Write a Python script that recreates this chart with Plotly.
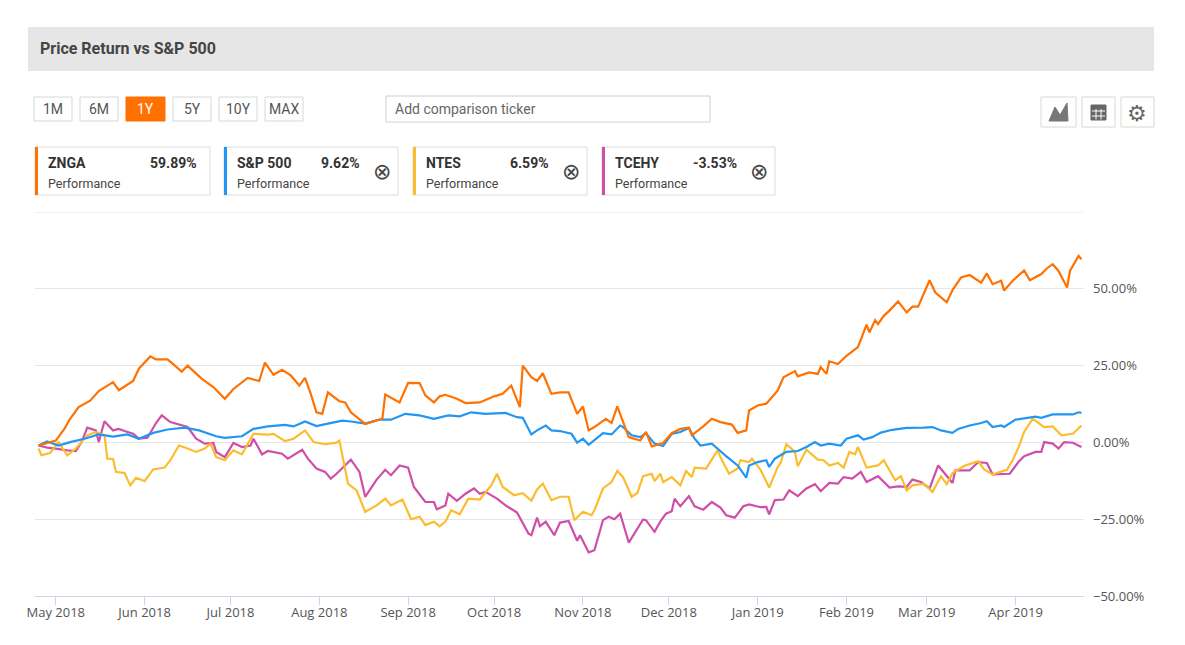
import pandas as pd
import plotly.graph_objects as go

BASE = "2018-04-24"
znga_day = [1,7,10,12,15,19,22,27,29,34,36,40,42,46,48,51,53,58,62,66,69,74,78,80,83,86,89,92,94,96,98,100,102,106,108,110,115,121,122,127,130,134,136,139,141,143,147,150,155,160,163,166,169,170,173,175,177,180,183,
            186,189,191,193,195,199,201,203,207,211,213,215,219,222,225,228,229,233,236,239,243,245,248,249,252,255,259,261,265,266,270,273,274,276,277,280,283,287,290,291,293,294,296,298,301,304,306,308,310,312,314,318,320,323,326,330,332,334,337,338,341,345,347,351,353,355,357,360,361,364,365]
znga_val = [-1,0.6,4.4,7.7,11.5,13.6,16.7,19.6,17,20,24,28,27,27,25.5,23,25,20.7,18,14.2,17.4,21,20,26,22,23.6,21.8,18.5,21,15.8,9.8,9.3,16.3,13.4,13,9.8,6,7.7,15.6,13,19.4,19.3,15.3,13,15,15.5,14.2,12.8,13,15,15.8,18.5,11.5,25,21.2,20,22.5,15.8,16.3,
            16.3,9.3,11.7,3.9,5,7.7,6.3,11.7,1.7,0.6,3.4,-1.3,-0.2,3,4.4,4.8,2.3,5.2,7.7,6.6,5.8,3.1,3.9,10.4,12,12.6,16.9,21.2,23.2,21.5,22.8,22.3,24.5,22.3,26.4,25.5,28.2,31,38.3,35.8,39.8,38.5,41.2,42.9,45.9,42.3,44.2,44.2,48.8,52.8,48.8,45.6,49.6,53.7,54.5,52,55,51.5,52.6,49.4,52.6,56,52.8,54.8,56.7,58,55.8,50.4,55.8,60.7,59.6]
spx_day = [1,4,8,12,17,22,27,32,36,41,46,52,57,63,66,72,76,81,87,90,94,98,102,107,110,115,120,124,129,134,139,144,148,152,157,164,168,170,173,175,178,180,183,
           187,189,191,193,197,198,201,204,205,208,211,213,216,219,222,225,228,230,232,236,241,245,248,249,252,255,256,258,262,266,269,272,274,277,281,283,287,289,292,295,299,304,310,313,316,320,322,326,330,332,334,337,338,342,349,351,355,362,364,365]
spx_val = [-1,0.3,-1,0.1,1.2,2.6,1.9,2.6,1.2,3.1,4.2,4.8,3.9,2,1.5,2,4.4,5.2,5.7,5.2,6.8,5.3,6.1,7.1,6.8,6.1,7.4,7.4,9.3,8.8,7.7,8.8,8.5,9.8,9.3,9.6,8.2,8,2.6,3.9,5.5,3.9,3.7,
           2.8,-0.1,1.2,-0.8,2.3,3,2.6,5.5,5,2.3,1.7,3,-0.4,-1.2,2.8,3.4,4.7,1.2,-1,-0.4,-4.5,-7.5,-11.5,-7.5,-6.4,-5.8,-8,-5.3,-3.1,-2.8,-1.5,0.1,-1,-0.4,-1,1.2,2.3,0.9,1.7,3.2,4.1,4.7,4.8,5,3.9,3.1,4.4,5.5,6.3,6.9,5,5.5,5,7.4,8.4,8,9.1,9.1,9.8,9.6]
ntes_day = [1,2,5,8,11,14,18,21,24,25,27,28,31,33,35,38,41,45,47,50,53,56,59,61,63,66,69,72,76,81,83,87,90,94,97,101,105,106,109,112,115,119,122,124,128,131,134,136,139,141,143,145,148,151,155,159,161,163,167,170,173,175,177,180,183,
            186,188,191,194,195,198,201,203,205,208,210,212,215,216,218,219,222,225,227,229,230,234,238,239,242,245,246,249,250,253,256,259,260,262,265,266,269,273,275,277,280,282,284,286,287,290,294,296,297,300,302,304,306,310,313,316,318,320,324,329,331,334,339,341,343,345,348,352,355,358,362,365]
ntes_val = [-2,-4.2,-3.5,0.1,-4.2,-2,2.3,3.4,2.3,-5.3,-5.4,-9.6,-10,-14,-11.5,-12.6,-8.8,-8.2,-5.8,-1,-2,-3.1,-2,-0.4,-4.8,-5.8,-2.6,-3.9,2.8,2.5,2.8,0.4,1.2,3.9,0.1,-0.6,-0.1,0.6,-13.4,-15.6,-22.6,-20.5,-18.3,-20.5,-18.6,-25,-24.2,-26.9,-25.8,-27.3,-25.8,-22.1,-23.4,-18.3,-18.6,-14,-10.2,-14.5,-17.2,-16.5,-19,-15.3,-13.4,-18.8,-17.7,
            -17.7,-25.3,-22.6,-23.7,-22.1,-15,-12.9,-9.3,-11.3,-17.7,-16.5,-11,-10.2,-12.6,-10.2,-12.9,-11.3,-14,-9.3,-11.3,-8.2,-8.5,-2.6,-4.8,-10.2,-8.5,-5.8,-6.4,-5.3,-8.9,-14.7,-8,-6.7,-0.6,-3.1,-7.8,-2.4,-5.6,-5.8,-7.5,-6.7,-8.2,-3.1,-3.9,-1.5,-8.2,-7.5,-5.8,-7.5,-12.3,-11,-15.6,-14,-13.4,-16.1,-11,-13.6,-10,-7.7,-6.1,-8.8,-10.4,-8.9,-5.8,-1.7,3.4,7.7,5,5.2,2.3,2.8,5.5]
tcehy_day = [1,4,7,11,14,16,18,21,22,24,27,29,31,34,36,39,42,44,47,51,53,56,59,62,63,66,69,72,75,76,79,81,86,88,90,93,95,98,101,103,105,110,113,115,119,122,124,127,130,132,136,139,140,143,144,147,150,153,155,157,161,164,168,172,173,175,176,178,181,183,
             186,189,190,193,195,198,200,202,204,207,212,213,216,218,220,222,223,225,228,230,233,236,239,241,244,247,249,253,255,256,258,261,263,266,269,272,274,277,280,282,285,288,290,294,298,301,304,306,309,312,315,320,321,326,329,332,334,340,343,345,349,351,352,355,357,359,362,364,365]
tcehy_val = [-1,-1.7,-2,-2.6,-2.8,0.1,4.8,3.9,0.1,6.9,3.9,4.4,3.7,2.8,1.2,1.5,6.3,8.8,6.6,5.5,5,1.2,-0.4,-0.2,-3.1,-4.8,-0.2,-1.5,-1,1.2,-3.9,-2.8,-3.7,-5.3,-4.2,-2.4,-5.3,-8.5,-9.6,-11.8,-10.2,-5.6,-9.6,-17.7,-12.1,-8.9,-10.7,-7.5,-8.2,-14.5,-19.4,-19.4,-21.8,-20.5,-16.7,-19,-16.7,-15,-16.7,-16.1,-18.3,-20.5,-22.8,-29.7,-30.2,-24.5,-27.3,-25.8,-30.2,-26.1,
             -25.6,-32,-30.2,-35.8,-35.1,-25.3,-24.2,-25,-23.2,-32.6,-25.1,-25.3,-29.1,-25.8,-23.2,-22.4,-18.3,-20.8,-17.5,-20.8,-21.9,-19.4,-21.2,-23.7,-24.5,-20.8,-20.2,-21.1,-21,-23.4,-18.8,-18.6,-15.6,-17.5,-15,-13.6,-15.9,-13.2,-13.4,-11.3,-11.8,-9.6,-12.9,-11,-14.7,-14.3,-14.5,-12.1,-12.9,-15,-7.5,-13.2,-9.1,-9.1,-6.4,-6.7,-10.4,-10.2,-6.4,-4.5,-3.1,-3.1,0.1,-0.4,-2,0.1,-0.1,-1,-1.5]

names = ["ZNGA", "S&P 500", "NTES", "TCEHY"]
perf = ["59.89%", "9.62%", "6.59%", "-3.53%"]
colors = ["#ff7100", "#2196f3", "#fbbd2d", "#cf4fa8"]
series = [(znga_day, znga_val), (spx_day, spx_val), (ntes_day, ntes_val), (tcehy_day, tcehy_val)]
ranges = ["1M", "6M", "1Y", "5Y", "10Y", "MAX"]
yticks = [-50, -25, 0, 25, 50]
ytext = ["−50.00%", "−25.00%", "0.00%", "25.00%", "50.00%"]

base = pd.Timestamp(BASE)
def dates(d):
    return [base + pd.Timedelta(days=x) for x in d]

fig = go.Figure()
for i in [3, 2, 1, 0]:
    d, v = series[i]
    fig.add_trace(go.Scatter(x=dates(d), y=v, mode="lines", name=names[i],
                             line=dict(color=colors[i], width=2.2), hoverinfo="skip"))

OFF = 8  # page body margin
W, H = 1185 - 2 * OFF, 645 - 2 * OFF
L, R, T, B = 35, 1084, 212, 596  # target screen pixels of plot frame
def px(x): return (x - L) / (R - L)
def py(y): return (B - y) / (B - T)

shapes, ann = [], []
def rect(x0, y0, x1, y1, fill="white", line="#d8d8d8", w=1):
    shapes.append(dict(type="rect", xref="paper", yref="paper", x0=px(x0), x1=px(x1),
                       y0=py(y1), y1=py(y0), fillcolor=fill, line=dict(color=line, width=w), layer="above"))
def text(x, y, s, size=13, color="#333", bold=False, anchor="left", font="Roboto"):
    ann.append(dict(xref="paper", yref="paper", x=px(x), y=py(y), text=f"<b>{s}</b>" if bold else s,
                    showarrow=False, xanchor=anchor, yanchor="middle",
                    font=dict(size=size, color=color, family=font)))

# header
rect(28, 27, 1154, 71, fill="#e6e6e6", line="#e6e6e6", w=0)
text(38, 49, "Price Return vs S&P 500", size=16, bold=True, color="#444")
# range buttons
bx = [(34, 72), (80, 118), (126, 165), (173, 211), (219, 257), (265, 303)]
for (a, b), r in zip(bx, ranges):
    sel = r == "1Y"
    rect(a, 97, b, 121, fill="#ff7100" if sel else "white", line="#ff7100" if sel else "#d8d8d8")
    text((a + b) / 2, 109, r, size=14, color="white" if sel else "#555", anchor="center")
rect(386, 96, 710, 122, line="#d0d0d0")
text(393, 109, "Add comparison ticker", size=14, color="#666")
# icons
for a, b in [(1041, 1076), (1082, 1115), (1121, 1154)]:
    rect(a, 97, b, 127, line="#d8d8d8")
shapes.append(dict(type="path", xref="paper", yref="paper", layer="above",
                   path=f"M{px(1049)},{py(121)} L{px(1055)},{py(107)} L{px(1060)},{py(115)} L{px(1067)},{py(103)} L{px(1068)},{py(121)} Z",
                   fillcolor="#777", line=dict(color="#777", width=1)))
rect(1091, 105, 1106, 120, fill="#666", line="#666")
for yy in [111, 116]:
    shapes.append(dict(type="line", xref="paper", yref="paper", layer="above", x0=px(1092), x1=px(1105), y0=py(yy), y1=py(yy), line=dict(color="white", width=1)))
for xx in [1096, 1101]:
    shapes.append(dict(type="line", xref="paper", yref="paper", layer="above", x0=px(xx), x1=px(xx), y0=py(109), y1=py(119.5), line=dict(color="white", width=1)))
text(1137, 113, "⚙", size=22, color="#666", anchor="center", font="DejaVu Sans")
# cards
cards = [(35, 210), (224, 398), (413, 587), (602, 775)]
for i, (a, b) in enumerate(cards):
    rect(a, 147, b, 195, line="#dcdcdc")
    rect(a, 147, a + 3, 195, fill=colors[i], line=colors[i], w=0)
    text(a + 11, 163, names[i], size=14, bold=True, color="#333")
    xr = b - 11 if i == 0 else b - 36
    text(xr, 163, perf[i], size=14, bold=True, color="#333", anchor="right")
    text(a + 11, 183, "Performance", size=12.5, color="#444")
    if i > 0:
        text(b - 16, 172, "⊗", size=22, color="#444", anchor="center", font="DejaVu Sans")
# top gridline at 75%
shapes.append(dict(type="line", xref="paper", yref="y", x0=0, x1=1, y0=75, y1=75, line=dict(color="#e6e6e6", width=1), layer="below"))

fig.update_layout(
    width=W, height=H, margin=dict(l=L - OFF, r=W - (R - OFF), t=T - OFF, b=H - (B - OFF)),
    paper_bgcolor="white", plot_bgcolor="white", showlegend=False,
    shapes=shapes, annotations=ann,
    xaxis=dict(range=[base + pd.Timedelta(days=-0.25), base + pd.Timedelta(days=365.9)],
               dtick="M1", tick0="2018-05-01", tickformat="%b %Y", ticks="outside", ticklen=8,
               tickcolor="#ccd6eb", showgrid=False, showline=True, linecolor="#ccd6eb", linewidth=1,
               tickfont=dict(family="Open Sans", size=13, color="#555"), ticklabelstandoff=-4,
               zeroline=False),
    yaxis=dict(range=[-50, 75], side="right", tickvals=yticks, ticktext=ytext, showgrid=True,
               gridcolor="#e6e6e6", zeroline=False, tickfont=dict(family="Open Sans", size=13, color="#555"),
               ticklabelstandoff=8),
)
fig.write_html("out.html")
